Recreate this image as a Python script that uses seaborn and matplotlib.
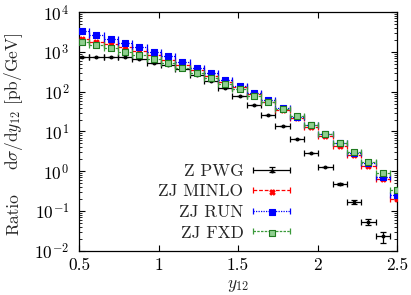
import matplotlib
matplotlib.use("Agg")
import matplotlib.pyplot as plt
import matplotlib.ticker as mticker
import seaborn as sns
from matplotlib.container import ErrorbarContainer
from matplotlib.legend_handler import HandlerErrorbar

# bin centres in y12 and half bin width
bin_centres = [0.52, 0.61, 0.70, 0.79, 0.88, 0.97, 1.06, 1.15, 1.24, 1.33, 1.42, 1.51,
               1.60, 1.69, 1.78, 1.87, 1.96, 2.05, 2.14, 2.23, 2.32, 2.41, 2.50]
half_width = 0.045

# dsigma/dy12 [pb/GeV]
z_pwg = [762, 762, 762, 762, 656, 539, 472, 367, 264, 192, 122, 78,
         47, 26, 13.4, 6.5, 2.83, 1.28, 0.48, 0.168, 0.0527, 0.0228]
z_pwg_relerr = [0, 0, 0, 0, 0, 0, 0, 0, 0, 0, 0, 0,
                0, 0, 0, 0, 0.01, 0.02, 0.05, 0.10, 0.18, 0.33]
zj_minlo = [2091, 1819, 1566, 1362, 1062, 842, 629, 472, 343, 249, 179, 129,
            86, 56, 34.8, 21.5, 13.2, 7.93, 4.44, 2.56, 1.38, 0.637, 0.20]
zj_run = [3325, 2686, 2168, 1719, 1324, 1003, 781, 561, 404, 292, 198, 140,
          94.7, 62, 39, 23.8, 14.6, 8.64, 5.04, 2.83, 1.58, 0.736, 0.25]
zj_fxd = [1819, 1503, 1285, 1019, 842, 656, 520, 404, 297, 218, 157, 115,
          78, 54, 36.8, 24.1, 14.8, 8.8, 5.13, 2.99, 1.68, 0.90, 0.34]

labels = ["Z PWG", "ZJ MINLO", "ZJ RUN", "ZJ FXD"]
x_ticks = [0.5, 1, 1.5, 2, 2.5]
x_ticklabels = ["0.5", "1", "1.5", "2", "2.5"]

sns.set_style("ticks")
plt.rcParams.update({
    "font.family": "serif",
    "font.serif": ["cmr10"],
    "mathtext.fontset": "cm",
    "axes.formatter.use_mathtext": True,
    "axes.unicode_minus": False,
    "font.size": 12.5,
    "axes.edgecolor": "black",
    "axes.linewidth": 0.9,
})

fig = plt.figure(figsize=(4.11, 2.95), dpi=100)
ax = fig.add_axes([79 / 411, 1 - 250.7 / 295, 318 / 411, 238.4 / 295])

styles = [
    dict(color="black", ls="-", marker="o", s=4, face="black", edge="black"),
    dict(color="#ff0000", ls=(0, (3, 1.5)), marker="X", s=14, face="#ff0000", edge="#ff0000"),
    dict(color="#0000ff", ls=(0, (1, 1)), marker="s", s=13, face="#0000ff", edge="#0000ff"),
    dict(color="#3a9a3a", ls=(0, (2, 1)), marker="s", s=20, face="#8fcf8f", edge="#1f7a1f"),
]
all_y = [z_pwg, zj_minlo, zj_run, zj_fxd]

handles = []
for lab, yv, st in zip(labels, all_y, styles):
    xv = bin_centres[:len(yv)]
    if yv is z_pwg:
        yerr = [r * v for r, v in zip(z_pwg_relerr, yv)]
    else:
        yerr = None
    eb = ax.errorbar(xv, yv, xerr=half_width, yerr=yerr, fmt="none",
                     ecolor=st["color"], elinewidth=0.9, capsize=2.2, capthick=0.9)
    for bl in eb.lines[2]:
        bl.set_linestyle(st["ls"])
    if yerr is not None:
        eb.lines[2][1].set_linestyle("-")
    sns.scatterplot(x=xv, y=yv, marker=st["marker"], color=st["face"], edgecolor=st["edge"],
                    s=st["s"], linewidth=0.8, ax=ax, legend=False, zorder=3)
    sc = ax.collections[-1]
    handles.append((eb, sc))

ax.set_yscale("log")
ax.set_xlim(0.5, 2.5)
ax.set_ylim(1e-2, 1e4)
ax.set_xticks(x_ticks, x_ticklabels)
ax.xaxis.set_minor_locator(mticker.NullLocator())
ax.yaxis.set_major_locator(mticker.LogLocator(base=10, numticks=10))
ax.yaxis.set_minor_locator(mticker.LogLocator(base=10, subs=range(2, 10), numticks=20))
ax.yaxis.set_minor_formatter(mticker.NullFormatter())
ax.tick_params(which="both", direction="in", top=True, right=True, colors="black")
ax.tick_params(which="major", length=4, width=0.8)
ax.tick_params(which="minor", length=2, width=0.6)
ax.tick_params(axis="y", which="major", pad=7)
ax.tick_params(axis="x", which="major", pad=5)
for sp in ax.spines.values():
    sp.set_visible(True)

ax.set_xlabel("$y_{12}$", labelpad=3.5)
ax.set_ylabel("")
fig.text(0.034, 1 - 101 / 295, r"$\mathrm{d}\sigma/\mathrm{d}y_{12}$ [pb/GeV]",
         rotation=90, ha="center", va="center")
fig.text(0.034, 1 - 214 / 295, "Ratio", rotation=90, ha="center", va="center")

ax.legend(handles, labels, loc="center right", bbox_to_anchor=(0.6635, 0.204),
          frameon=False, markerfirst=False, borderpad=0, borderaxespad=0,
          handlelength=2.13, handletextpad=0.55, labelspacing=0.3,
          handler_map={ErrorbarContainer: HandlerErrorbar(xerr_size=1.05, yerr_size=0.15)})

fig.savefig("out.png", dpi=100)
